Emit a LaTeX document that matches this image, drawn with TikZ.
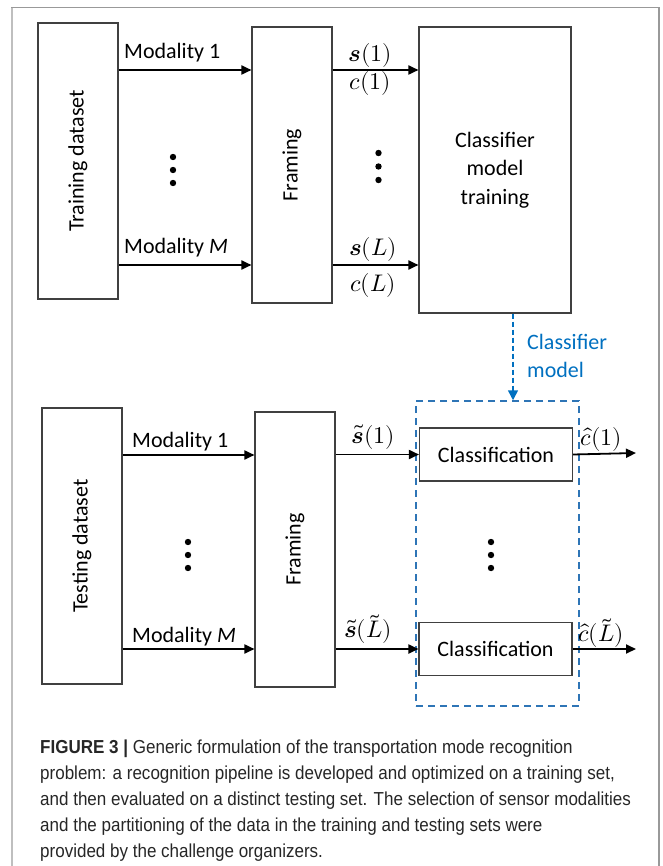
\documentclass[tikz,border=0pt]{standalone}
\usepackage{amsmath}
\usepackage{fontspec}
\usepackage{unicode-math}
\setmainfont{Carlito}
\setmathfont{Latin Modern Math}
\newfontfamily\capfont[FakeStretch=0.905]{Liberation Sans}
\usetikzlibrary{arrows.meta, positioning}
\definecolor{boxgray}{RGB}{64,64,64}
\definecolor{clfblue}{RGB}{0,112,192}
\definecolor{ensblue}{RGB}{46,117,182}

\begin{document}
\begin{tikzpicture}[x=1pt, y=-1pt,
	font=\fontsize{22}{28.5}\selectfont,
	main/.style = {draw=boxgray, line width=1.1pt, minimum width=80pt, minimum height=276pt, inner sep=0pt},
	clsbox/.style = {draw=boxgray, line width=1.1pt, minimum width=153pt, minimum height=53pt, inner sep=0pt},
	flow/.style = {-{Triangle[length=10pt,width=9pt]}, line width=1.8pt},
	mth/.style = {inner sep=0pt, font=\fontsize{24}{28}\selectfont},
	lbl/.style = {inner sep=0pt, anchor=west}]
	\useasboundingbox (0,0) rectangle (662,866);
	% outer frame
	\draw[gray!50, line width=1.5pt] (12,866) -- (12,7.5);
	\draw[gray!80, line width=1.5pt] (11.3,7.5) -- (659,7.5) -- (659,866);

	% training part
	\node[main] (1) at (78,161) {\rotatebox{90}{Training dataset}};
	\node[main] (2) at (292,165) {\rotatebox{90}{Framing}};
	\node[main, minimum width=152pt, minimum height=286pt, align=center] (3) at (495,170) {Classifier\\model\\training};
	\coordinate (r1) at (0,70);
	\coordinate (r2) at (0,265);
	\path
	(1.east |- r1) edge[flow] (2.west |- r1)
	(1.east |- r2) edge[flow] (2.west |- r2)
	(2.east |- r1) edge[flow] (3.west |- r1)
	(2.east |- r2) edge[flow] (3.west |- r2);
	\node[lbl] at (124,53) {Modality 1};
	\node[lbl] at (124,248) {Modality \textit{M}};
	\node[mth] at (370,56) {$\symbfit{s}(1)$};
	\node[mth] at (370,84) {$c(1)$};
	\node[mth] at (373,250) {$\symbfit{s}(L)$};
	\node[mth] at (373,285) {$c(L)$};
	\foreach \y in {157,170,183} \fill (173,\y) circle (3.2);
	\foreach \y in {153,166.5,180} \fill (378.5,\y) circle (3.2);

	% testing part
	\node[main] (4) at (82,546) {\rotatebox{90}{Testing dataset}};
	\node[main, minimum height=275pt] (5) at (295,549.5) {\rotatebox{90}{Framing}};
	\node[draw=ensblue, dashed, dash pattern=on 7pt off 5pt, line width=1.5pt, minimum width=163pt, minimum height=305pt] (6) at (497.5,553.5) {};
	\node[clsbox] (7) at (496,454.5) {Classification};
	\node[clsbox] (8) at (495.5,649) {Classification};
	\coordinate (r3) at (0,455);
	\coordinate (r4) at (0,649);
	\coordinate (o1) at (636,453);
	\coordinate (o2) at (636,649);
	\path
	(4.east |- r3) edge[flow] (5.west |- r3)
	(4.east |- r4) edge[flow] (5.west |- r4)
	(5.east |- 7.west) edge[flow] (7.west)
	(5.east |- 8.west) edge[flow] (8.west)
	(7.east) edge[flow] (o1)
	(8.east) edge[flow] (o2);
	\node[lbl] at (132,442) {Modality 1};
	\node[lbl] at (132,637) {Modality \textit{M}};
	\node[mth] at (373,437) {$\tilde{\symbfit{s}}(1)$};
	\node[mth] at (368,629) {$\tilde{\symbfit{s}}(\tilde{L})$};
	\node[mth] at (601,439) {$\hat{c}(1)$};
	\node[mth] at (601,633) {$\hat{c}(\tilde{L})$};
	\foreach \y in {542,555,568} \fill (188,\y) circle (3.2);
	\foreach \y in {542,555,568} \fill (491,\y) circle (3.2);

	% model hand-over
	\draw[clfblue, dashed, dash pattern=on 5pt off 3pt, line width=1.5pt, -{Triangle[length=10pt,width=10pt]}] (3.south -| 513,0) -- (6.north -| 513,0);
	\node[lbl, clfblue, align=left] at (527,356) {Classifier\\model};

	% caption
	\node[anchor=north west, inner sep=0pt, align=left, text=black!85, font=\capfont\fontsize{18.8}{26}\selectfont] (cap) at (40,740)
	{{\bfseries FIGURE 3 |} Generic formulation of the transportation mode recognition\\
	problem: a recognition pipeline is developed and optimized on a training set,\\
	and then evaluated on a distinct testing set. The selection of sensor modalities\\
	and the partitioning of the data in the training and testing sets were\\
	provided by the challenge organizers.};
\end{tikzpicture}
\end{document}
